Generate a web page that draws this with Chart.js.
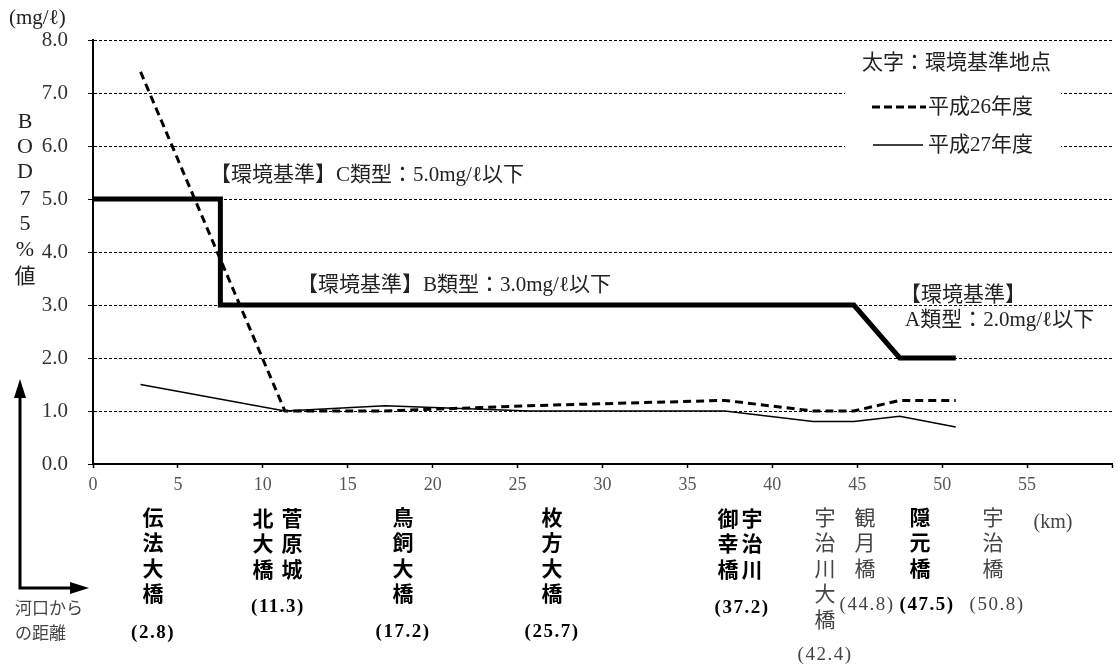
<!DOCTYPE html>
<html lang="ja">
<head>
<meta charset="utf-8">
<script src="https://cdn.jsdelivr.net/npm/chart.js@4.4.1/dist/chart.umd.min.js"></script>
<style>
  html, body { margin: 0; padding: 0; background: #fff; }
  #wrap { width: 1118px; height: 668px; position: relative; }
</style>
</head>
<body>
<div id="wrap"><canvas id="bod"></canvas></div>
<script>
// 河口からの距離 (km)
const distKm = [2.8, 11.3, 17.2, 25.7, 37.2, 42.4, 44.8, 47.5, 50.8];
// BOD 75%値 (mg/ℓ)
const bodH26 = [7.4, 1.0, 1.0, 1.1, 1.2, 1.0, 1.0, 1.2, 1.2];
const bodH27 = [1.5, 1.0, 1.1, 1.0, 1.0, 0.8, 0.8, 0.9, 0.7];
// 環境基準 step line
const stdKm = [0, 7.5, 7.5, 44.8, 47.5, 50.8];
const stdVal = [5.0, 5.0, 3.0, 3.0, 2.0, 2.0];
// station names (vertical columns, right column first)
const stationNames = [['伝法大橋'], ['菅原城', '北大橋'], ['鳥飼大橋'], ['枚方大橋'], ['宇治川', '御幸橋'], ['宇治川大橋'], ['観月橋'], ['隠元橋'], ['宇治橋']];
const isEnvPoint = [true, true, true, true, true, false, false, true, false];
const seriesNames = ['平成26年度', '平成27年度'];
const stdNotes = ['【環境基準】C類型：5.0mg/ℓ以下', '【環境基準】B類型：3.0mg/ℓ以下', '【環境基準】', 'A類型：2.0mg/ℓ以下'];
const yMax = 8;
const xMax = 60;

const SERIF = '"Liberation Serif", "DejaVu Serif", "Noto Sans CJK JP", serif';
const CJK = '"Noto Sans CJK JP", sans-serif';

const pts = (xs, ys) => xs.map((x, i) => ({ x: x, y: ys[i] }));

// label layout (pixels) for the station captions under the axis
const labelLayout = [
    { cols: [153], top: 517, num: [153, 633] },
    { cols: [292, 263], top: 518, num: [278, 607] },
    { cols: [403], top: 517, num: [403, 632] },
    { cols: [552], top: 517, num: [552, 632] },
    { cols: [752, 728], top: 518, num: [742, 608] },
    { cols: [825], top: 517, num: [825, 655] },
    { cols: [865], top: 517, num: [867, 605] },
    { cols: [920], top: 517, num: [927, 605] },
    { cols: [993], top: 517, num: [997, 605] }
];

const decorations = {
    id: 'decorations',
    afterDraw(chart) {
        const ctx = chart.ctx;
        ctx.save();
        ctx.textBaseline = 'middle';

        // unit
        ctx.fillStyle = '#222';
        ctx.textAlign = 'left';
        ctx.font = '21px ' + SERIF;
        ctx.fillText('(mg/ℓ)', 9, 18);

        // vertical y title
        const yTitle = ['B', 'O', 'D', '7', '5', '%', '値'];
        const yTitleY = [122, 147, 172, 199, 224, 250, 275];
        ctx.textAlign = 'center';
        yTitle.forEach((c, i) => {
            ctx.font = (c === '値' ? '21px ' + CJK : '22px ' + SERIF);
            ctx.fillText(c, 25, yTitleY[i]);
        });

        // standard notes
        ctx.textAlign = 'left';
        ctx.font = '21px ' + SERIF;
        ctx.fillText(stdNotes[0], 210, 175);
        ctx.fillText(stdNotes[1], 297, 285);
        ctx.fillText(stdNotes[2], 900, 295);
        ctx.fillText(stdNotes[3], 905, 320);

        // legend box
        ctx.fillStyle = '#fff';
        ctx.fillRect(845, 50, 216, 110);
        ctx.fillStyle = '#222';
        ctx.font = '21px ' + SERIF;
        ctx.fillText('太字：環境基準地点', 862, 63);
        ctx.fillText(seriesNames[0], 928, 107);
        ctx.fillText(seriesNames[1], 928, 145);
        ctx.strokeStyle = '#000';
        ctx.lineWidth = 3;
        ctx.setLineDash([8, 4]);
        ctx.beginPath(); ctx.moveTo(872, 107); ctx.lineTo(926, 107); ctx.stroke();
        ctx.setLineDash([]);
        ctx.lineWidth = 1.5;
        ctx.beginPath(); ctx.moveTo(873, 145); ctx.lineTo(923, 145); ctx.stroke();

        // station captions
        stationNames.forEach((cols, i) => {
            const lay = labelLayout[i];
            const bold = isEnvPoint[i];
            ctx.fillStyle = bold ? '#000' : '#444';
            ctx.font = (bold ? 'bold ' : '') + '21px ' + CJK;
            ctx.textAlign = 'center';
            cols.forEach((name, c) => {
                [...name].forEach((ch, k) => {
                    ctx.fillText(ch, lay.cols[c], lay.top + k * 25.5);
                });
            });
            ctx.font = (bold ? 'bold ' : '') + '19px ' + SERIF;
            ctx.letterSpacing = '1.5px';
            ctx.fillText('(' + distKm[i].toFixed(1) + ')', lay.num[0], lay.num[1]);
            ctx.letterSpacing = '0px';
        });
        ctx.fillStyle = '#444';
        ctx.font = '20px ' + SERIF;
        ctx.fillText('(km)', 1053, 523);

        // axis arrows (bottom-left)
        ctx.fillStyle = '#000';
        ctx.strokeStyle = '#000';
        ctx.lineWidth = 3;
        ctx.beginPath();
        ctx.moveTo(20, 394); ctx.lineTo(20, 588); ctx.lineTo(72, 588);
        ctx.stroke();
        ctx.beginPath();
        ctx.moveTo(20, 379); ctx.lineTo(14, 398); ctx.lineTo(26, 398); ctx.closePath(); ctx.fill();
        ctx.beginPath();
        ctx.moveTo(89, 588); ctx.lineTo(70, 582); ctx.lineTo(70, 594); ctx.closePath(); ctx.fill();
        ctx.fillStyle = '#444';
        ctx.font = '17px ' + CJK;
        ctx.textAlign = 'left';
        ctx.fillText('河口から', 15, 608);
        ctx.fillText('の距離', 15, 633);

        ctx.restore();
    }
};

new Chart(document.getElementById('bod'), {
    type: 'line',
    data: {
        datasets: [
            { label: seriesNames[0], data: pts(distKm, bodH26), borderColor: '#000', borderWidth: 3, borderDash: [8, 5], pointRadius: 0, tension: 0, fill: false },
            { label: seriesNames[1], data: pts(distKm, bodH27), borderColor: '#000', borderWidth: 1.5, pointRadius: 0, tension: 0, fill: false },
            { label: '環境基準', data: pts(stdKm, stdVal), borderColor: '#000', borderWidth: 5, borderJoinStyle: 'miter', pointRadius: 0, tension: 0, fill: false }
        ]
    },
    options: {
        responsive: true,
        maintainAspectRatio: false,
        animation: false,
        layout: { padding: { top: 40, left: 0, right: 0, bottom: 0 } },
        scales: {
            x: {
                type: 'linear', min: 0, max: xMax,
                afterFit: s => { s.height = 204; },
                grid: { drawOnChartArea: false, drawTicks: true, tickLength: 4, tickColor: '#000', tickWidth: 1.5 },
                border: { display: true, color: '#000', width: 2 },
                ticks: { stepSize: 5, color: '#555', padding: 6, maxRotation: 0, autoSkip: false,
                    font: { family: SERIF, size: 18 },
                    callback: v => (v >= xMax ? '' : v) }
            },
            y: {
                min: 0, max: yMax,
                afterFit: s => { s.width = 93; },
                grid: { color: '#000', lineWidth: 1, drawTicks: true, tickLength: 5, tickColor: '#000' },
                border: { display: true, color: '#000', width: 2, dash: [3, 2] },
                ticks: { stepSize: 1, color: '#333', padding: 20,
                    font: { family: SERIF, size: 21 },
                    callback: v => v.toFixed(1) }
            }
        },
        plugins: { legend: { display: false }, tooltip: { enabled: false } }
    },
    plugins: [decorations]
});
</script>
</body>
</html>
